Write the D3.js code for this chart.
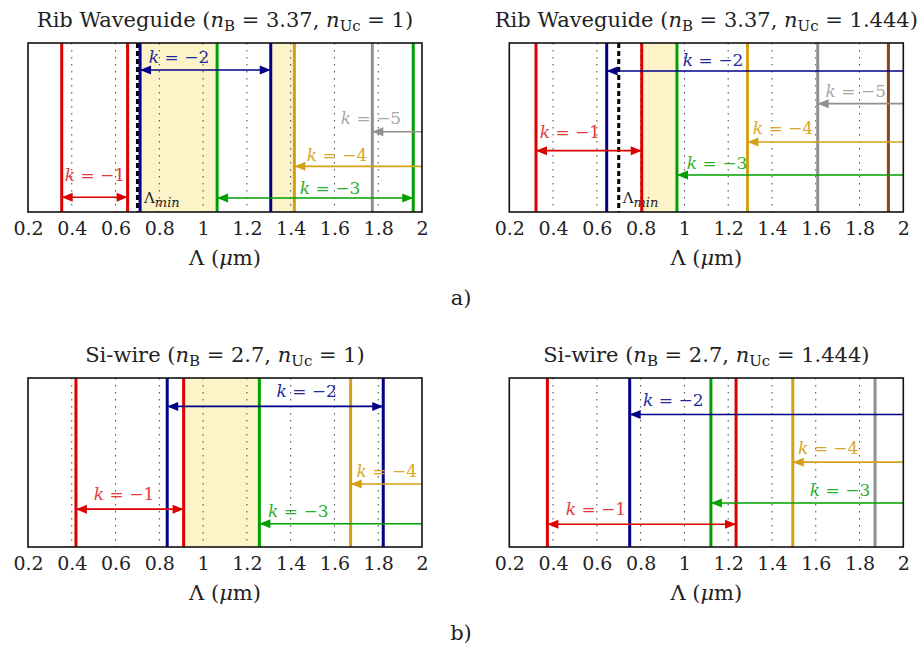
<!DOCTYPE html>
<meta charset="utf-8">
<style>
    body { margin: 0; background: #fff; }
    text { font-family: "DejaVu Serif", "Liberation Serif", serif; fill: #222; }
    .tick text { font-size: 19px; font-family: "DejaVu Serif", serif; }
    .grid line { stroke: #444; stroke-width: 1; stroke-dasharray: 1.5,5.5; }
    .frame { fill: none; stroke: #111; stroke-width: 1.6; }
</style>

<body>
    <svg width="922" height="649"></svg>
    <script src="https://d3js.org/d3.v7.min.js"></script>
    <script>
        // ---- data ----
        var xTicks = [0.2, 0.4, 0.6, 0.8, 1, 1.2, 1.4, 1.6, 1.8, 2];
        var lambdaMin = 0.7;

        var titles = [
            ["Rib Waveguide", "3.37", "1"],
            ["Rib Waveguide", "3.37", "1.444"],
            ["Si-wire", "2.7", "1"],
            ["Si-wire", "2.7", "1.444"]
        ];
        var rowLabels = ["a)", "b)"];

        // vertical lines: diffraction order k and period (um)
        var ribAirLines = [
            { k: -1, lam: 0.354 }, { k: -1, lam: 0.655 },
            { k: -2, lam: 0.712 }, { k: -2, lam: 1.309 },
            { k: -3, lam: 1.064 }, { k: -3, lam: 1.960 },
            { k: -4, lam: 1.417 }, { k: -5, lam: 1.773 }
        ];
        var ribOxLines = [
            { k: -1, lam: 0.322 }, { k: -1, lam: 0.805 },
            { k: -2, lam: 0.645 }, { k: -3, lam: 0.966 },
            { k: -4, lam: 1.288 }, { k: -5, lam: 1.609 },
            { k: -6, lam: 1.932 }
        ];
        var wireAirLines = [
            { k: -1, lam: 0.419 }, { k: -1, lam: 0.911 },
            { k: -2, lam: 0.836 }, { k: -2, lam: 1.823 },
            { k: -3, lam: 1.257 }, { k: -4, lam: 1.674 }
        ];
        var wireOxLines = [
            { k: -1, lam: 0.374 }, { k: -1, lam: 1.236 },
            { k: -2, lam: 0.750 }, { k: -3, lam: 1.121 },
            { k: -4, lam: 1.495 }, { k: -5, lam: 1.871 }
        ];

        // shaded single-order windows
        var ribAirBands = [[0.712, 1.064], [1.309, 1.417]];
        var ribOxBands = [[0.805, 0.966]];
        var wireAirBands = [[0.911, 1.257]];
        var wireOxBands = [];

        // arrows: from -> to (um), height (0..1), two-headed?, label centre
        var ribAirArrows = [
            { k: -1, from: 0.354, to: 0.655, h: 0.087, both: true, lx: 0.506, ly: 0.219 },
            { k: -2, from: 0.712, to: 1.309, h: 0.840, both: true, lx: 0.890, ly: 0.917 },
            { k: -3, from: 1.064, to: 1.960, h: 0.083, both: true, lx: 1.580, ly: 0.142 },
            { k: -4, from: 2, to: 1.417, h: 0.270, both: false, lx: 1.612, ly: 0.337 },
            { k: -5, from: 2, to: 1.773, h: 0.475, both: false, lx: 1.767, ly: 0.556 }
        ];
        var ribOxArrows = [
            { k: -1, from: 0.322, to: 0.805, h: 0.363, both: true, lx: 0.477, ly: 0.475 },
            { k: -2, from: 2, to: 0.645, h: 0.834, both: false, lx: 1.131, ly: 0.899 },
            { k: -3, from: 2, to: 0.966, h: 0.219, both: false, lx: 1.149, ly: 0.290 },
            { k: -4, from: 2, to: 1.288, h: 0.414, both: false, lx: 1.450, ly: 0.497 },
            { k: -5, from: 2, to: 1.609, h: 0.641, both: false, lx: 1.783, ly: 0.718 }
        ];
        var wireAirArrows = [
            { k: -1, from: 0.419, to: 0.911, h: 0.224, both: true, lx: 0.639, ly: 0.313 },
            { k: -2, from: 0.836, to: 1.823, h: 0.832, both: true, lx: 1.473, ly: 0.921 },
            { k: -3, from: 2, to: 1.257, h: 0.138, both: false, lx: 1.435, ly: 0.214 },
            { k: -4, from: 2, to: 1.674, h: 0.373, both: false, lx: 1.839, ly: 0.452 }
        ];
        var wireOxArrows = [
            { k: -1, from: 0.374, to: 1.236, h: 0.135, both: true, lx: 0.596, ly: 0.224 },
            { k: -2, from: 2, to: 0.750, h: 0.784, both: false, lx: 0.949, ly: 0.872 },
            { k: -3, from: 2, to: 1.121, h: 0.260, both: false, lx: 1.711, ly: 0.337 },
            { k: -4, from: 2, to: 1.495, h: 0.502, both: false, lx: 1.657, ly: 0.586 }
        ];

        // Lambda_min label position (um, height)
        var ribAirMin = [0.73, 0.08];
        var ribOxMin = [0.718, 0.083];

        // ---- layout ----
        var lineColor = d3.scaleOrdinal()
            .domain([-1, -2, -3, -4, -5, -6])
            .range(["#dd0000", "#000088", "#00a000", "#d4a017", "#909090", "#8b4513"]);
        var textColor = d3.scaleOrdinal()
            .domain([-1, -2, -3, -4, -5, -6])
            .range(["#e33a3a", "#1f2a9a", "#2bb02b", "#dba628", "#a8a8a8", "#8b4513"]);

        var panels = [
            { left: 28, top: 43, lines: ribAirLines, bands: ribAirBands, arrows: ribAirArrows, lmin: ribAirMin },
            { left: 509.3, top: 43, lines: ribOxLines, bands: ribOxBands, arrows: ribOxArrows, lmin: ribOxMin },
            { left: 28, top: 378, lines: wireAirLines, bands: wireAirBands, arrows: wireAirArrows, lmin: null },
            { left: 509.3, top: 378, lines: wireOxLines, bands: wireOxBands, arrows: wireOxArrows, lmin: null }
        ];
        var W = 394, H = 169;

        var svg = d3.select("svg");

        panels.forEach(function (p, i) {
            var x = d3.scaleLinear().domain([0.2, 2]).range([0, W]);
            var y = d3.scaleLinear().domain([0, 1]).range([H, 0]);
            var g = svg.append("g").attr("transform", "translate(" + p.left + "," + p.top + ")");

            // title
            var t = g.append("text")
                .attr("x", W / 2).attr("y", -16)
                .attr("text-anchor", "middle")
                .style("font-size", "21px");
            t.append("tspan").text(titles[i][0] + " (");
            t.append("tspan").style("font-style", "italic").text("n");
            t.append("tspan").attr("dy", 4).style("font-size", "15px").text("B");
            t.append("tspan").attr("dy", -4).text(" = " + titles[i][1] + ", ");
            t.append("tspan").style("font-style", "italic").text("n");
            t.append("tspan").attr("dy", 4).style("font-size", "15px").text("Uc");
            t.append("tspan").attr("dy", -4).text(" = " + titles[i][2] + ")");

            // shaded bands
            g.selectAll(".band").data(p.bands).enter().append("rect")
                .attr("x", function (d) { return x(d[0]); })
                .attr("width", function (d) { return x(d[1]) - x(d[0]); })
                .attr("y", 0).attr("height", H)
                .attr("fill", "#fdf3c9");

            // dotted grid
            g.append("g").attr("class", "grid")
                .selectAll("line").data(xTicks.slice(1, -1)).enter().append("line")
                .attr("x1", function (d) { return x(d); }).attr("x2", function (d) { return x(d); })
                .attr("y1", 0).attr("y2", H);

            // Lambda_min dashed line
            if (p.lmin) {
                g.append("line")
                    .attr("x1", x(lambdaMin)).attr("x2", x(lambdaMin))
                    .attr("y1", 0).attr("y2", H)
                    .attr("stroke", "#000").attr("stroke-width", 3)
                    .attr("stroke-dasharray", "5,3");
                var lm = g.append("text")
                    .attr("x", x(p.lmin[0])).attr("y", y(p.lmin[1]))
                    .attr("dominant-baseline", "central")
                    .style("font-size", "15px");
                lm.append("tspan").text("Λ");
                lm.append("tspan").attr("dy", 4).style("font-style", "italic").style("font-size", "13px").text("min");
            }

            // vertical cut-off lines
            g.selectAll(".vl").data(p.lines).enter().append("line")
                .attr("x1", function (d) { return x(d.lam); }).attr("x2", function (d) { return x(d.lam); })
                .attr("y1", 0).attr("y2", H)
                .attr("stroke", function (d) { return lineColor(d.k); })
                .attr("stroke-width", 3);

            // arrows
            var head = 11, half = 4.5;
            function tri(tip, dir, yy) {
                return "M" + tip + "," + yy + "L" + (tip - dir * head) + "," + (yy - half) +
                    "L" + (tip - dir * head) + "," + (yy + half) + "Z";
            }
            p.arrows.forEach(function (a) {
                var x0 = x(a.from), x1 = x(a.to), yy = y(a.h), c = lineColor(a.k);
                var dir = x1 > x0 ? 1 : -1;
                g.append("line")
                    .attr("x1", x0).attr("x2", x1).attr("y1", yy).attr("y2", yy)
                    .attr("stroke", c).attr("stroke-width", 1.6);
                g.append("path").attr("d", tri(x1, dir, yy)).attr("fill", c);
                if (a.both) g.append("path").attr("d", tri(x0, -dir, yy)).attr("fill", c);

                var lt = g.append("text")
                    .attr("x", x(a.lx)).attr("y", y(a.ly))
                    .attr("text-anchor", "middle")
                    .attr("dominant-baseline", "central")
                    .style("font-size", "17px")
                    .style("fill", textColor(a.k));
                lt.append("tspan").style("font-style", "italic").text("k");
                lt.append("tspan").text(" = −" + (-a.k));
            });

            // frame
            g.append("rect").attr("class", "frame").attr("width", W).attr("height", H);

            // axis
            var ax = g.append("g").attr("transform", "translate(0," + H + ")")
                .call(d3.axisBottom(x).tickValues(xTicks).tickSize(0).tickPadding(10)
                    .tickFormat(function (d) { return String(d); }));
            ax.select(".domain").remove();
            ax.selectAll("text").attr("fill", "#222");

            var xl = g.append("text")
                .attr("x", W / 2).attr("y", H + 53)
                .attr("text-anchor", "middle")
                .style("font-size", "21px");
            xl.append("tspan").text("Λ (");
            xl.append("tspan").style("font-style", "italic").text("μ");
            xl.append("tspan").text("m)");
        });

        svg.selectAll(".row").data(rowLabels).enter().append("text")
            .attr("x", 461).attr("y", function (d, i) { return i ? 640 : 305; })
            .attr("text-anchor", "middle")
            .style("font-size", "21px")
            .text(function (d) { return d; });
    </script>
</body>
